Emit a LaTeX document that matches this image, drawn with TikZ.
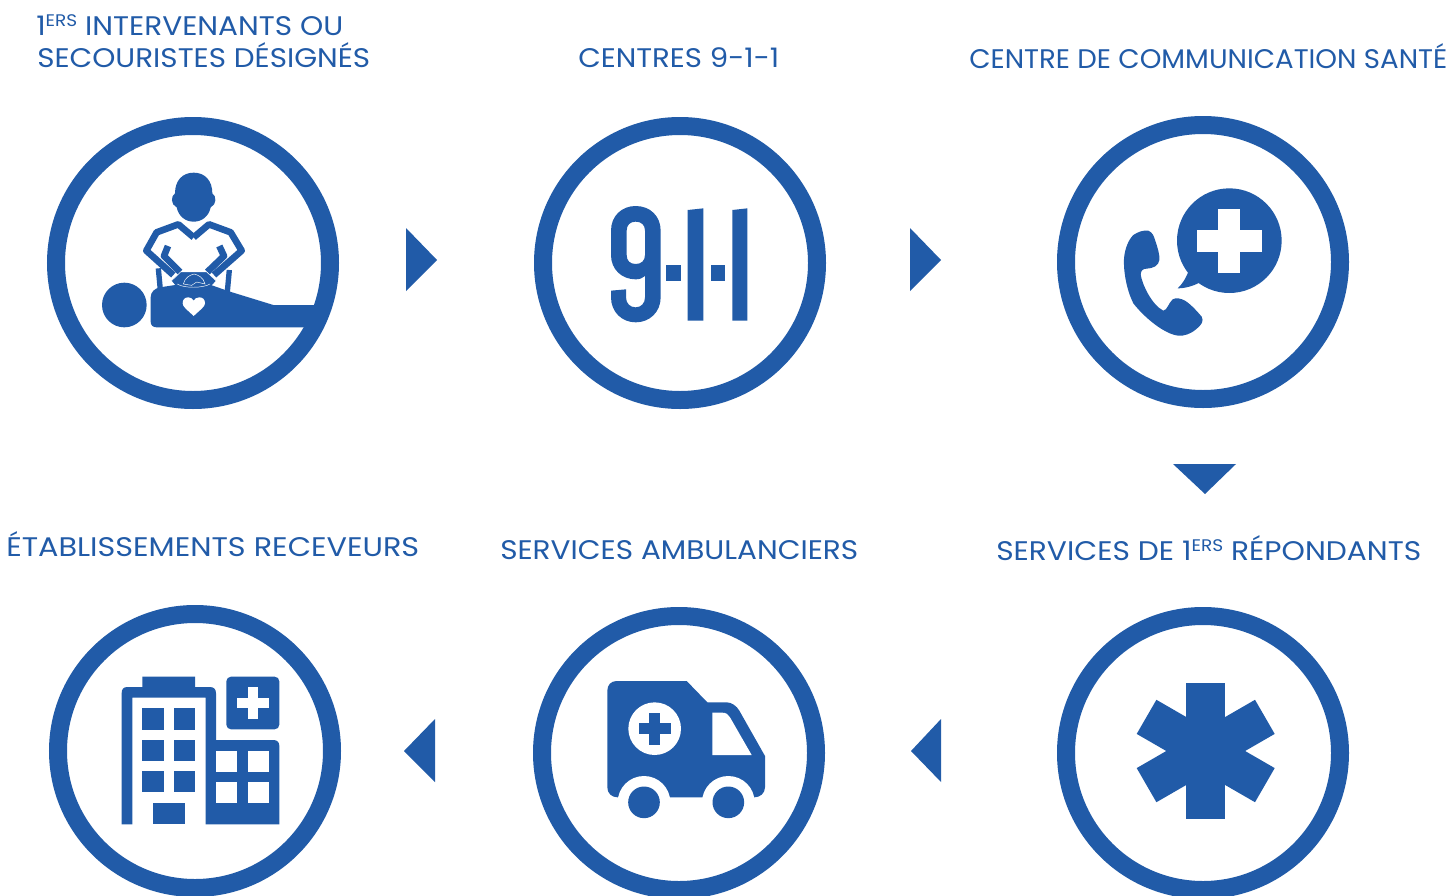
\documentclass[tikz,border=0pt]{standalone}
\usepackage{fontspec}
\usepackage{graphicx}
\newfontfamily\labfont{Poppins}
\definecolor{bleu}{HTML}{215BA8}
\newcommand\ersup{\raisebox{.3em}{\fontsize{12pt}{12pt}\selectfont ERS}}
\newcommand\fitlab[2]{\setbox0=\hbox{#2}\pgfmathsetmacro\fitsx{#1*0.75pt/\wd0}\scalebox{\fitsx}[1.05]{\box0}}
\tikzset{
  ring/.style={circle,draw=bleu,line width=13.5pt,minimum size=205.5pt,inner sep=0pt,outer sep=0pt},
  lab/.style={anchor=base west,inner sep=0pt,text=bleu,font=\labfont\fontsize{19.2pt}{24pt}\selectfont},
  tri/.style={fill=bleu,draw=none},
  ic/.style={fill=bleu,draw=none},
  wh/.style={fill=white,draw=none},
  zoomed/.style={x=.25pt,y=-.25pt}
}
\begin{document}
\begin{tikzpicture}[x=.75pt,y=-.75pt]
\useasboundingbox (0,0) rectangle (1450,896);
\fill[white] (0,0) rectangle (1450,896);
\node[ring] (c1) at (193,263) {};
\node[ring] (c2) at (680,263) {};
\node[ring] (c3) at (1203,262) {};
\node[ring] (c4) at (1203,753) {};
\node[ring] (c5) at (679,753) {};
\node[ring] (c6) at (195,751) {};
% arrows
\fill[tri] (406,228)--(437,260)--(406,291)--cycle;
\fill[tri] (910,228)--(941,260)--(910,291)--cycle;
\fill[tri] (1173,464)--(1236,464)--(1205,494)--cycle;
\fill[tri] (941,719)--(911,751)--(941,782)--cycle;
\fill[tri] (435,719)--(404,751)--(435,782)--cycle;
% labels
\node[lab] (t1a) at (36,35) {\fitlab{307}{1\ersup{} INTERVENANTS OU}};
\node[lab] (t1b) at (37,67) {\fitlab{333}{SECOURISTES DÉSIGNÉS}};
\node[lab] (t2) at (578,67) {\fitlab{201}{CENTRES 9-1-1}};
\node[lab] (t3) at (969,68) {\fitlab{478}{CENTRE DE COMMUNICATION SANTÉ}};
\node[lab] (t6) at (6,556) {\fitlab{413}{ÉTABLISSEMENTS RECEVEURS}};
\node[lab] (t5) at (500,559) {\fitlab{358}{SERVICES AMBULANCIERS}};
\node[lab] (t4) at (996,560) {\fitlab{425}{SERVICES DE 1\ersup{} RÉPONDANTS}};
% CPR icon
\begin{scope}[shift={(90,160)},zoomed]
\fill[ic] (311,38) .. controls (345,38) and (367,62) .. (367,100) .. controls (380,108) and (380,134) .. (362,142) .. controls (356,170) and (335,185) .. (311,185) .. controls (287,185) and (266,170) .. (260,142) .. controls (242,134) and (242,108) .. (255,100) .. controls (255,62) and (277,38) .. (311,38) -- cycle;
\draw[bleu,line width=5pt,line join=round] (311,232)--(265,193)--(200,217)--(169,272)--(250,345);
\draw[bleu,line width=5pt,line join=round] (311,232)--(357,193)--(422,217)--(455,272)--(372,345);
\draw[bleu,line width=5pt,line join=round] (234,258)--(222,288)--(270,336);
\draw[bleu,line width=5pt,line join=round] (388,258)--(402,288)--(352,336);
\draw[bleu,line width=4pt] (205,325)--(211,390);
\draw[bleu,line width=4pt] (418,330)--(412,395);
\fill[ic] (182,412) .. controls (182,395) and (195,385) .. (210,382) -- (262,374) -- (360,374) -- (420,395) -- (550,435) -- (690,435) -- (660,502) -- (200,502) .. controls (188,502) and (182,495) .. (182,485) -- cycle;
\fill[ic] (245,362)--(272,336)--(350,336)--(378,362)--(355,386)--(265,386)--cycle;
\draw[white,line width=.35pt] (245,362)--(272,336)--(350,336) (350,336)--(378,362)
 (280,372) .. controls (285,352) and (300,345) .. (312,342) .. controls (325,345) and (340,352) .. (345,372) -- (320,366) -- (305,376) -- (280,372)
 (262,372) .. controls (280,385) and (340,385) .. (360,372);
\fill[ic] (103,435) circle[radius=67];
\fill[wh] (311,468) .. controls (290,448) and (278,440) .. (278,430) .. controls (278,418) and (285,412) .. (295,412) .. controls (302,412) and (308,416) .. (311,422) .. controls (314,416) and (320,412) .. (328,412) .. controls (338,412) and (345,418) .. (345,430) .. controls (345,440) and (332,448) .. (311,468) -- cycle;
\end{scope}
% 911 icon
\begin{scope}[shift={(590,190)},zoomed]
\fill[ic,even odd rule] (63,122) .. controls (63,78) and (95,48) .. (137,48) .. controls (180,48) and (212,78) .. (212,122) -- (212,322) .. controls (212,365) and (180,397) .. (137,397) .. controls (95,397) and (63,365) .. (63,322) -- (63,302) -- (108,298) -- (108,322) .. controls (108,340) and (120,352) .. (137,352) .. controls (153,352) and (165,340) .. (165,322) -- (165,258) .. controls (158,265) and (148,268) .. (137,268) .. controls (95,268) and (63,238) .. (63,195) -- cycle
 (110,122) .. controls (110,105) and (120,95) .. (137,95) .. controls (154,95) and (165,105) .. (165,122) -- (165,195) .. controls (165,212) and (154,222) .. (137,222) .. controls (120,222) and (110,212) .. (110,195) -- cycle;
\fill[ic] (293,60)--(340,55)--(340,392)--(293,392)--cycle;
\fill[ic] (427,60)--(472,55)--(472,392)--(427,392)--cycle;
\fill[ic] (229,226) rectangle (272,273);
\fill[ic] (363,226) rectangle (405,273);
\end{scope}
% phone icon
\begin{scope}[shift={(1110,175)},zoomed]
\fill[ic] (358,197) circle[radius=157];
\fill[ic] (237,285) .. controls (228,310) and (215,330) .. (203,340) .. controls (225,340) and (250,333) .. (270,322) -- cycle;
\fill[wh] (325,102) rectangle (390,293);
\fill[wh] (262,165) rectangle (455,230);
\fill[ic] (70,180) .. controls (85,170) and (100,165) .. (115,167) .. controls (128,172) and (132,185) .. (135,195) .. controls (142,215) and (150,240) .. (148,255) .. controls (146,272) and (130,280) .. (110,281) .. controls (100,281) and (93,285) .. (92,298) .. controls (95,325) and (125,390) .. (160,407) .. controls (172,405) and (175,385) .. (188,373) .. controls (198,367) and (212,370) .. (225,377) .. controls (245,390) and (262,410) .. (275,425) .. controls (282,438) and (275,450) .. (258,463) .. controls (240,478) and (222,483) .. (205,482) .. controls (165,478) and (105,430) .. (70,385) .. controls (50,345) and (40,290) .. (42,250) .. controls (45,220) and (55,195) .. (70,180) -- cycle;
\end{scope}
% star of life
\foreach \a in {0,60,120}{
  \fill[ic,rotate around={\a:(1205.7,751)}] (1186,682.7) rectangle (1225.4,819.3);
}
% ambulance icon
\begin{scope}[shift={(595,670)},zoomed]
\fill[ic] (37,62) .. controls (37,45) and (48,33) .. (65,33) -- (275,33) -- (337,97) -- (395,97) .. controls (410,97) and (425,108) .. (433,122) -- (510,258) -- (510,352) .. controls (510,370) and (495,382) .. (478,382) -- (68,382) .. controls (50,382) and (37,370) .. (37,352) -- cycle;
\fill[wh] (147,397) circle[radius=79];
\fill[wh] (400,397) circle[radius=79];
\fill[ic] (147,397) circle[radius=47.5];
\fill[ic] (400,397) circle[radius=47.5];
\fill[wh] (352,128) -- (382,128) .. controls (393,128) and (400,133) .. (405,142) -- (470,255) -- (352,255) -- cycle;
\fill[wh] (179,176) circle[radius=79];
\fill[ic] (163,128) rectangle (195,224);
\fill[ic] (131,160) rectangle (227,192);
\end{scope}
% hospital icon
\begin{scope}[shift={(110,665)},zoomed]
\fill[ic] (35,478) -- (35,85) .. controls (35,73) and (40,66) .. (52,66) -- (97,66) -- (97,35) -- (255,35) -- (255,66) -- (300,66) .. controls (312,66) and (318,73) .. (318,85) -- (318,225) -- (490,225) .. controls (502,225) and (508,232) .. (508,243) -- (508,478) -- (287,478) -- (287,98) -- (67,98) -- (67,478) -- cycle;
\foreach \x in {97,192}{\foreach \y in {130,224,318}{
  \fill[ic] (\x,\y) rectangle ++(64,64);
}}
\fill[ic] (130,413) rectangle (225,478);
\foreach \x in {318,413}{\foreach \y in {257,351}{
  \fill[wh] (\x,\y) rectangle ++(63,63);
}}
\fill[ic,rounded corners=3.5pt] (349,35) rectangle (508,193);
\fill[wh] (413,67) rectangle (444,161);
\fill[wh] (381,98) rectangle (476,130);
\end{scope}
\end{tikzpicture}
\end{document}
